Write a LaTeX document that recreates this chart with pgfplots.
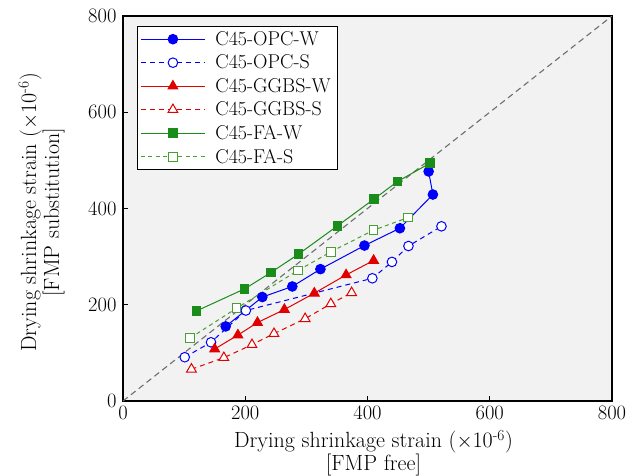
\documentclass[border=0pt]{standalone}
\usepackage{pgfplots}
\pgfplotsset{compat=1.18}

\definecolor{cblue}{RGB}{0,0,250}
\definecolor{cred}{RGB}{225,0,0}
\definecolor{cgreen}{RGB}{25,140,25}
\definecolor{cgreenl}{RGB}{70,160,50}
\definecolor{diaggray}{RGB}{110,110,110}
\definecolor{plotbg}{RGB}{242,242,242}

\newcommand\legfont{\fontsize{20}{20}\selectfont}

% drying shrinkage: FMP free (x) vs FMP substitution (y), x 1e-6
\pgfplotstableread{
x y
168 155
228 216
277 238
323 274
395 323
453 359
507 429
500 477
}\opcw
\pgfplotstableread{
x y
101 91
144 122
201 188
408 255
440 289
467 322
521 363
}\opcs
\pgfplotstableread{
x y
150 108
188 137
220 163
264 190
313 224
365 262
410 292
}\ggbsw
\pgfplotstableread{
x y
112 66
165 90
211 117
247 140
298 171
340 202
374 225
}\ggbss
\pgfplotstableread{
x y
120 187
199 233
242 267
287 305
351 364
411 420
449 456
502 494
}\faw
\pgfplotstableread{
x y
110 131
186 193
286 271
340 310
410 355
466 381
}\fas

% legend sample: a 64pt line in the series colour with one mark in its middle
\pgfplotsset{
  limg/.style={legend image code/.code={
    \draw[draw=#1, line width=1pt] (0pt,0pt) -- (64pt,0pt);
    \draw[draw=#1] plot coordinates {(32pt,0pt)};
    \path (70pt,0pt);
  }},
}

\begin{document}
\begin{tikzpicture}
\begin{axis}[
  scale only axis,
  width=489pt, height=385pt,
  xmin=0, xmax=800, ymin=0, ymax=800,
  xtick={0,200,...,800}, ytick={0,200,...,800},
  tick align=inside,
  xtick pos=bottom, ytick pos=left,
  major tick length=5pt,
  axis line style={line width=1.1pt},
  tick style={black, line width=0.9pt},
  axis background/.style={fill=plotbg},
  /pgf/number format/assume math mode=true,
  ticklabel style={font=\fontsize{20.5}{20.5}\selectfont},
  xticklabel style={yshift=-1pt},
  yticklabel style={xshift=-3pt},
  every axis x label/.style={at={(axis description cs:0.5,0)}, anchor=north,
    xshift=6pt, yshift=-29pt, inner sep=0pt, align=center,
    font=\fontsize{22}{20.5}\selectfont},
  every axis y label/.style={at={(axis description cs:-0.119,0.49)}, anchor=south,
    rotate=90, inner sep=0pt, align=center,
    font=\fontsize{22}{21}\selectfont},
  xlabel={Drying shrinkage strain ($\times$10\textsuperscript{-6})\\{[FMP free]}},
  ylabel={Drying shrinkage strain ($\times$10\textsuperscript{-6})\\{[FMP substitution]}},
  legend cell align=left,
  legend style={at={(axis description cs:0.0286,0.974)}, anchor=north west,
    fill=white, draw=black, line width=0.9pt,
    font=\legfont,
    row sep=4pt, inner xsep=3pt, inner ysep=3pt,
    nodes={inner xsep=4pt, inner ysep=2pt}},
  every axis plot/.append style={line width=1pt},
]
\addplot[diaggray, line width=1.1pt, dash pattern=on 6pt off 4pt, forget plot]
  coordinates {(0,0) (800,800)};

\addplot[cblue, limg=cblue, mark=*, mark size=4.8pt, mark options={solid, fill=cblue}]
  table {\opcw};
\addlegendentry{C45-OPC-W}
\addplot[cblue, limg=cblue, dash pattern=on 5pt off 4pt, mark=*, mark size=4.8pt,
  mark options={solid, fill=white}]
  table {\opcs};
\addlegendentry{C45-OPC-S}
\addplot[cred, limg=cred, mark=triangle*, mark size=5.6pt, mark options={solid, fill=cred}]
  table {\ggbsw};
\addlegendentry{C45-GGBS-W}
\addplot[cred, limg=cred, dash pattern=on 5pt off 4pt, mark=triangle*, mark size=5.6pt,
  mark options={solid, fill=white}]
  table {\ggbss};
\addlegendentry{C45-GGBS-S}
\addplot[cgreen, limg=cgreen, mark=square*, mark size=4.3pt, mark options={solid, fill=cgreen}]
  table {\faw};
\addlegendentry{C45-FA-W}
\addplot[cgreenl, limg=cgreenl, dash pattern=on 4pt off 3.5pt, mark=square*, mark size=4.3pt,
  mark options={solid, fill=white}]
  table {\fas};
\addlegendentry{C45-FA-S}
\end{axis}
\pgfresetboundingbox
\path[use as bounding box] (current axis.south west) ++(-123pt,-74pt) rectangle ++(630pt,475pt);
\end{tikzpicture}
\end{document}
